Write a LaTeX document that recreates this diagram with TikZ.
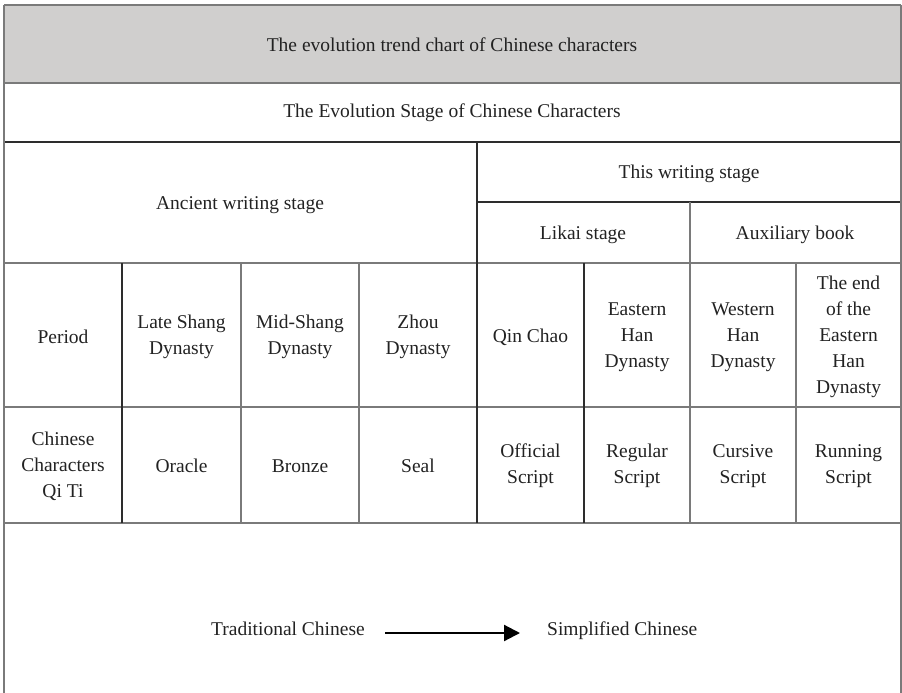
\documentclass[tikz,border=0pt]{standalone}
\usepackage{fontspec}
\setmainfont{Liberation Serif}
\usetikzlibrary{arrows.meta}
\definecolor{headfill}{RGB}{208,207,206}
\definecolor{ruledark}{RGB}{45,45,45}
\definecolor{rulegray}{RGB}{122,122,122}
\definecolor{inktext}{RGB}{34,34,34}
\begin{document}
\begin{tikzpicture}[x=1pt,y=-1pt,
  cell/.style={inner sep=0pt, align=center, text=inktext,
    font=\fontsize{19.5}{26}\selectfont},
  darkrule/.style={draw=ruledark, line width=1.3pt},
  softrule/.style={draw=rulegray, line width=1.3pt}]
\useasboundingbox (0,0) rectangle (902,693);

% title band
\fill[headfill] (4,5) rectangle (901,83);

% horizontal rules
\draw[softrule] (4,5) -- (901,5);
\draw[softrule] (4,83) -- (901,83);
\draw[darkrule] (4,142) -- (901,142);
\draw[darkrule] (477,202) -- (901,202);
\draw[softrule] (4,263) -- (901,263);
\draw[softrule] (4,407) -- (901,407);
\draw[softrule] (4,523) -- (901,523);

% vertical rules
\draw[softrule] (4,5) -- (4,693);
\draw[softrule] (901,5) -- (901,693);
\draw[darkrule] (477,142) -- (477,523);
\draw[softrule] (690,202) -- (690,523);
\draw[darkrule] (122,263) -- (122,523);
\draw[darkrule] (584,263) -- (584,523);
\foreach \x in {241,359,796}
  \draw[softrule] (\x,263) -- (\x,523);

% headings
\node[cell] (title) at (452,45) {The evolution trend chart of Chinese characters};
\node[cell] (stage) at (452,113) {The Evolution Stage of Chinese Characters};
\node[cell] (ancient) at (240,205) {Ancient writing stage};
\node[cell] (thiswr) at (689,174) {This writing stage};
\node[cell] (likai) at (583,235) {Likai stage};
\node[cell] (aux) at (795,235) {Auxiliary book};

% period row
\node[cell] (period) at (63,337) {Period};
\node[cell] (lshang) at (181.5,337) {Late Shang\\Dynasty};
\node[cell] (mshang) at (300,337) {Mid-Shang\\Dynasty};
\node[cell] (zhou) at (418,337) {Zhou\\Dynasty};
\node[cell] (qin) at (530.5,337) {Qin Chao};
\node[cell] (ehan) at (637,337) {Eastern\\Han\\Dynasty};
\node[cell] (whan) at (743,337) {Western\\Han\\Dynasty};
\node[cell] (endhan) at (848.5,337) {The end\\of the\\Eastern\\Han\\Dynasty};

% script row
\node[cell] (qiti) at (63,466) {Chinese\\Characters\\Qi Ti};
\node[cell] (oracle) at (181.5,466) {Oracle};
\node[cell] (bronze) at (300,466) {Bronze};
\node[cell] (seal) at (418,466) {Seal};
\node[cell] (official) at (530.5,466) {Official\\Script};
\node[cell] (regular) at (637,466) {Regular\\Script};
\node[cell] (cursive) at (743,466) {Cursive\\Script};
\node[cell] (running) at (848.5,466) {Running\\Script};

% trend
\node[cell, anchor=base east] (trad) at (365,635) {Traditional Chinese};
\node[cell, anchor=base west] (simp) at (547,635) {Simplified Chinese};
\draw[line width=2.2pt, draw=black, -{Triangle[length=16pt,width=16pt]}]
  ([xshift=20pt,yshift=2pt]trad.base east) -- ([xshift=-27pt,yshift=2pt]simp.base west);
\end{tikzpicture}
\end{document}
